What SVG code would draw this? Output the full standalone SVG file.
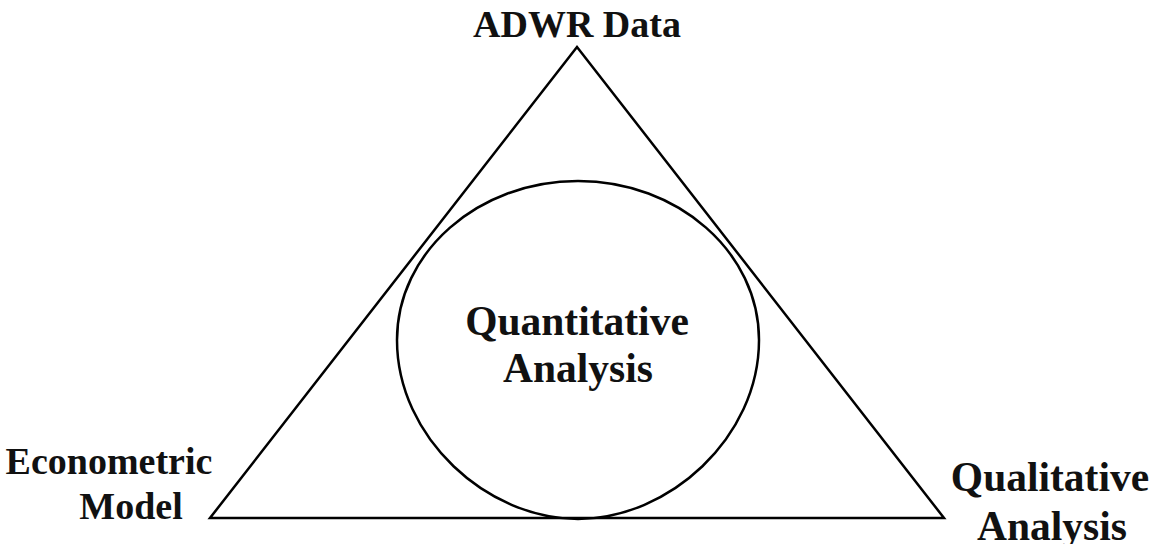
<svg xmlns="http://www.w3.org/2000/svg" width="1158" height="544" viewBox="0 0 1158 544">
  <style>
    .lbl { font-family: "Liberation Serif", "Times New Roman", serif; font-weight: bold; fill: #111; text-anchor: middle; }
    .sm { font-size: 38px; }
    .lg { font-size: 41.5px; }
    .shape { fill: none; stroke: #000; stroke-width: 2.5; stroke-linejoin: miter; }
  </style>
  <rect width="1158" height="544" fill="#fff"/>
  <g id="triangle">
    <polygon class="shape" points="577,47 210,518 944,518"/>
  </g>
  <g id="quantitative">
    <!-- oval: elliptical upper half, slightly narrower toward the base line -->
    <path class="shape" stroke-width="3"
          d="M578,181
             C678,181 759,252.2 759,340
             C759,438 668.5,519 578,519
             C487.5,519 397,438 397,340
             C397,252.2 478,181 578,181 Z"/>
    <text class="lbl lg" x="577" y="335">Quantitative</text>
    <text class="lbl lg" x="578" y="382">Analysis</text>
  </g>
  <g id="adwr">
    <text class="lbl sm" x="577" y="37">ADWR Data</text>
  </g>
  <g id="econometric">
    <text class="lbl sm" x="109" y="474">Econometric</text>
    <text class="lbl sm" x="131" y="519">Model</text>
  </g>
  <g id="qualitative">
    <text class="lbl lg" x="1050" y="491">Qualitative</text>
    <text class="lbl lg" x="1052" y="540">Analysis</text>
  </g>
</svg>
